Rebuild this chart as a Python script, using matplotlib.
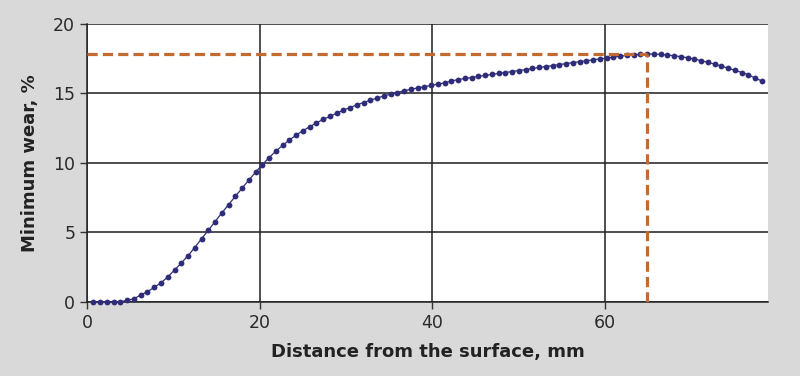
import numpy as np
import matplotlib
matplotlib.use("Agg")
import matplotlib.pyplot as plt

# distance from the surface, mm (100 evenly spaced samples)
depth = np.linspace(0.75, 78.2, 100)
# minimum wear, %
wear = [0.0, 0.0, 0.0, 0.0, 0.02, 0.12, 0.24, 0.5, 0.75, 1.05,
        1.38, 1.8, 2.3, 2.8, 3.33, 3.92, 4.55, 5.15, 5.78, 6.4,
        7.0, 7.6, 8.18, 8.77, 9.33, 9.88, 10.38, 10.85, 11.26, 11.65,
        12.0, 12.32, 12.6, 12.88, 13.13, 13.35, 13.58, 13.8, 13.99, 14.18,
        14.35, 14.52, 14.67, 14.82, 14.95, 15.07, 15.19, 15.3, 15.4, 15.49,
        15.58, 15.67, 15.77, 15.9, 16.0, 16.08, 16.15, 16.23, 16.3, 16.37,
        16.44, 16.51, 16.58, 16.65, 16.72, 16.8, 16.87, 16.94, 17.01, 17.08,
        17.15, 17.22, 17.29, 17.35, 17.42, 17.49, 17.55, 17.62, 17.68, 17.74,
        17.78, 17.82, 17.84, 17.84, 17.81, 17.77, 17.71, 17.65, 17.57, 17.48,
        17.36, 17.24, 17.11, 16.97, 16.82, 16.67, 16.51, 16.35, 16.1, 15.9]

xticks = [0, 20, 40, 60]
yticks = [0, 5, 10, 15, 20]

bg = "#d9d9d9"
fig = plt.figure(figsize=(8, 3.76), dpi=100, facecolor=bg)
ax = fig.add_axes([0.10875, 0.1968, 0.85125, 0.7394])
ax.set_facecolor("white")

ax.set_xlim(0, 78.9)
ax.set_ylim(0, 20)
ax.set_xticks(xticks)
ax.set_yticks(yticks)
ax.grid(True, color="#1e1e1e", linewidth=1.1)
ax.set_axisbelow(True)

for side in ("top", "right"):
    ax.spines[side].set_visible(False)
for side in ("left", "bottom"):
    ax.spines[side].set_color("#222222")
    ax.spines[side].set_linewidth(1.1)

ax.tick_params(axis="both", colors="#333333", labelsize=12.5, length=5, width=1,
               labelcolor="#2a2a2a")

ax.plot(depth, wear, color="#2f2d7a", linewidth=0.9, marker="o",
        markersize=4.2, markeredgewidth=0, zorder=3, clip_on=False)

# peak marker lines (drawn over the curve)
i_peak = int(np.argmax(wear))
orange = "#c26a30"
ax.plot([0, depth[i_peak]], [wear[i_peak], wear[i_peak]], color=orange,
        linewidth=2.3, dashes=(3.2, 1.6), zorder=4)
ax.plot([depth[i_peak], depth[i_peak]], [0, wear[i_peak]], color=orange,
        linewidth=2.3, dashes=(3.2, 1.6), zorder=4)

ax.set_xlabel("Distance from the surface, mm", fontsize=13, fontweight="bold",
              color="#222222", labelpad=8)
ax.set_ylabel("Minimum wear, %", fontsize=13, fontweight="bold",
              color="#222222", labelpad=10)

fig.savefig("out.png", dpi=100, facecolor=bg)
